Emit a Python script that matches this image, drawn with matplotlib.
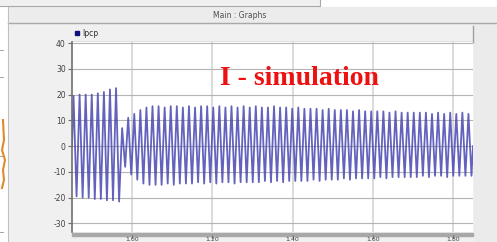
import numpy as np
import matplotlib
matplotlib.use("Agg")
import matplotlib.pyplot as plt
from matplotlib.patches import Rectangle

# Signal peaks / troughs per cycle (kA)
PEAKS = [19.5, 20.0, 20.0, 20.0, 20.5, 21.0, 22.0, 22.5,
         7.0, 11.0, 12.5, 14.0, 15.0, 15.5, 15.5, 15.0, 15.5, 15.5,
         15.0, 15.5, 15.0, 15.5, 15.5, 15.0, 15.5, 15.0, 15.5, 15.0,
         15.5, 15.0, 15.5, 15.0, 15.0, 15.5, 15.0, 15.0, 14.5, 15.0,
         14.5, 14.5, 14.5, 14.0, 14.5, 14.0, 14.0, 14.0, 13.5, 14.0,
         13.5, 13.5, 13.5, 13.5, 13.0, 13.5, 13.0, 13.0, 13.0, 13.0,
         13.0, 12.5, 13.0, 12.5, 13.0, 12.5, 13.0, 12.5]
TROUGHS = [-19.5, -20.0, -20.0, -20.5, -20.5, -21.0, -21.0, -21.5,
           -8.0, -11.0, -13.0, -14.5, -15.0, -15.0, -15.0, -14.5, -15.0, -14.5,
           -14.5, -14.5, -14.0, -14.5, -14.0, -14.5, -14.0, -14.0, -14.5, -14.0,
           -14.0, -14.0, -14.0, -13.5, -14.0, -13.5, -14.0, -13.5, -13.5, -13.5,
           -13.5, -13.0, -13.5, -13.0, -13.0, -13.0, -12.5, -13.0, -12.5, -12.5,
           -12.5, -12.5, -12.0, -12.5, -12.0, -12.0, -12.0, -12.0, -12.0, -11.5,
           -12.0, -11.5, -11.5, -12.0, -11.5, -11.5, -11.5, -11.5]
T_START, T_END = 0.85, 1.85
X_TICKS = [1.0, 1.2, 1.4, 1.6, 1.8]
X_LABELS = ["1.00", "1.20", "1.40", "1.60", "1.80"]
Y_TICKS = [40, 30, 20, 10, 0, -10, -20, -30]

W, H = 497, 242


def box(x0, y0, x1, y1):
    """pixel box (top-left origin) -> figure fraction"""
    return [x0 / W, 1 - y1 / H, (x1 - x0) / W, (y1 - y0) / H]


# build the zigzag trace: one peak and one trough per cycle
n = len(PEAKS)
period = (T_END - T_START) / n
t = [T_START]
v = [0.0]
for k in range(n):
    t += [T_START + (k + 0.25) * period, T_START + (k + 0.75) * period]
    v += [PEAKS[k], TROUGHS[k]]
t.append(T_END)
v.append(0.0)

fig = plt.figure(figsize=(W / 100, H / 100), dpi=100, facecolor="#f0f0f0")

# window chrome in pixel coords
bg = fig.add_axes([0, 0, 1, 1], zorder=0)
bg.set_xlim(0, W)
bg.set_ylim(H, 0)
bg.axis("off")
bg.add_patch(Rectangle((320, 0), W - 320, 6, color="white"))
bg.plot([0, 320, 320], [6, 6, 0], color="#a8a8a8", lw=0.8)
bg.add_patch(Rectangle((8, 7), W - 8, 15, color="#ececec"))
bg.plot([8, W], [22.5, 22.5], color="#a8a8a8", lw=1)
bg.text(240, 15, "Main : Graphs", fontsize=5.5, color="#505050",
        ha="center", va="center")
bg.add_patch(Rectangle((0, 7), 8, H - 7, color="white"))
bg.plot([8, 8], [7, H], color="#c0c0c0", lw=0.8)
for yy in [50, 77, 156, 232]:
    bg.plot([0, 3], [yy, yy], color="#909090", lw=0.6)
bg.plot([3, 4, 2, 5, 3, 4, 2], [120, 140, 150, 160, 170, 180, 188],
        color="#e08a2a", lw=1.5)
bg.add_patch(Rectangle((474, 24), W - 474, H - 24, color="#ebebeb"))
bg.plot([473, 473], [26, 42], color="#a0a0a0", lw=1)
bg.plot([72, 473], [42, 42], color="#a0a0a0", lw=1)
bg.add_patch(Rectangle((75, 30.5), 4, 4, color="#10107a"))
bg.text(82, 33, "Ipcp", fontsize=5.5, color="#303030", va="center")
bg.add_patch(Rectangle((72, 232.5), 401, 3, color="#a8a8a8"))
for xt, lab in zip(X_TICKS, X_LABELS):
    px = 72 + (xt - T_START) / (T_END - T_START) * 401
    bg.plot([px, px], [235, 237.5], color="#808080", lw=0.8)
    bg.text(px, 241.8, lab, fontsize=4.5, color="#404040",
            ha="center", va="bottom")

ax = fig.add_axes(box(72, 42, 473, 232), zorder=1)
ax.set_facecolor("white")
ax.plot(t, v, color="#4848b2", lw=1.3, alpha=0.85)
ax.set_xlim(T_START, T_END)
ax.set_ylim(-33.3, 40.4)
ax.set_yticks(Y_TICKS)
ax.set_yticklabels([str(y) for y in Y_TICKS])
ax.set_xticks(X_TICKS)
ax.set_xticklabels([])
ax.grid(True, axis="y", color="#b4b4b4", lw=0.8)
ax.grid(True, axis="x", color="#d4d4d4", lw=1.2)
ax.set_axisbelow(True)
for side in ["top", "right", "bottom"]:
    ax.spines[side].set_visible(False)
ax.spines["left"].set_color("#707070")
ax.spines["left"].set_linewidth(1.2)
ax.tick_params(axis="y", length=3, width=0.8, color="#707070",
               labelsize=5.5, labelcolor="#404040", pad=1.5)
ax.tick_params(axis="x", length=0)

ax.text(0.566, 0.81, "I - simulation", transform=ax.transAxes,
        fontsize=20, fontweight="bold", color="#ee1111",
        family="Liberation Serif", ha="center", va="center")

fig.savefig("out.png", dpi=100, facecolor=fig.get_facecolor())
